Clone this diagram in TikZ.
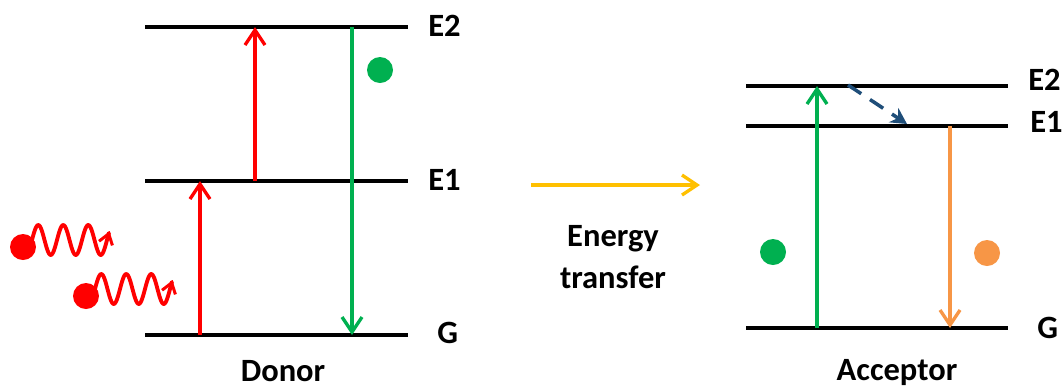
\documentclass[tikz,border=0pt]{standalone}
\usepackage{fontspec}
\setmainfont{Carlito}
\usetikzlibrary{arrows.meta}
\definecolor{lvred}{HTML}{FF0000}
\definecolor{lvgreen}{HTML}{00B050}
\definecolor{lvorange}{HTML}{F79646}
\definecolor{lvyellow}{HTML}{FFC000}
\definecolor{lvblue}{HTML}{1F4E79}
\tikzset{
  energyline/.style={line width=2.2pt,black},
  trans/.style={line width=2pt,-{Straight Barb[length=3mm,width=4mm,line width=1.9pt]}},
  lvlabel/.style={anchor=base west,inner sep=0pt,font=\bfseries\fontsize{18.5}{22}\selectfont},
  caption/.style={anchor=base,inner sep=0pt,font=\bfseries\fontsize{18.5}{24}\selectfont,align=center},
  dot/.style={circle,inner sep=0pt,minimum size=0.52cm},
  photon/.pic={
    \fill[lvred] (0,0) circle (0.26cm);
    \draw[lvred,line width=2.2pt,line join=round,-{Straight Barb[length=2mm,width=2.8mm,line width=1.7pt]}]
      plot[domain=0:3.1,samples=90,smooth] ({9+\x*25},{-7-15*sin(\x*360)});
  },
}

\begin{document}
\begin{tikzpicture}[x=0.02cm,y=-0.02cm]
\useasboundingbox (0,0) rectangle (1064,387);
% donor
\foreach \lv/\yy/\by/\lx in {E2/27/36/428,E1/181/190/428,G/335/343/437}{
  \draw[energyline] (145,\yy) coordinate (d\lv l) -- (408,\yy) coordinate (d\lv r);
  \node[lvlabel] (d\lv lab) at (\lx,\by) {\lv};
}
\coordinate (rA0) at (200,335); \coordinate (rA1) at (200,181);
\coordinate (rB0) at (255,181); \coordinate (rB1) at (255,27);
\coordinate (gD0) at (352,27);  \coordinate (gD1) at (352,335);
\draw[trans,lvred] (rA0) -- (rA1);
\draw[trans,lvred] (rB0) -- (rB1);
\draw[trans,lvgreen] (gD0) -- (gD1);
\node[dot,fill=lvgreen] (ddot) at (380,70) {};
\pic (ph1) at (23,247) {photon};
\pic (ph2) at (86,296) {photon};
\node[caption] (donor) at (283,381) {Donor};

% transfer
\coordinate (yT0) at (531,185); \coordinate (yT1) at (700,185);
\draw[trans,lvyellow] (yT0) -- (yT1);
\node[caption,anchor=center] (etr) at (613,257) {Energy\\transfer};

% acceptor
\foreach \lv/\yy/\by/\lx in {E2/86/90/1028,E1/126/132/1030,G/328/338/1037}{
  \draw[energyline] (746,\yy) coordinate (a\lv l) -- (1008,\yy) coordinate (a\lv r);
  \node[lvlabel] (a\lv lab) at (\lx,\by) {\lv};
}
\coordinate (gA0) at (817,328); \coordinate (gA1) at (817,86);
\coordinate (oA0) at (950,126); \coordinate (oA1) at (950,328);
\coordinate (bA0) at (848,85);  \coordinate (bA1) at (907,124);
\draw[trans,lvgreen] (gA0) -- (gA1);
\draw[trans,lvorange] (oA0) -- (oA1);
\draw[lvblue,line width=2pt,dash pattern=on 9pt off 6pt,-{Stealth[length=3.2mm,width=3.4mm]}] (bA0) -- (bA1);
\node[dot,fill=lvgreen] (agdot) at (773,252) {};
\node[dot,fill=lvorange] (aodot) at (987,253) {};
\node[caption] (acceptor) at (897,380) {Acceptor};
\end{tikzpicture}
\end{document}
